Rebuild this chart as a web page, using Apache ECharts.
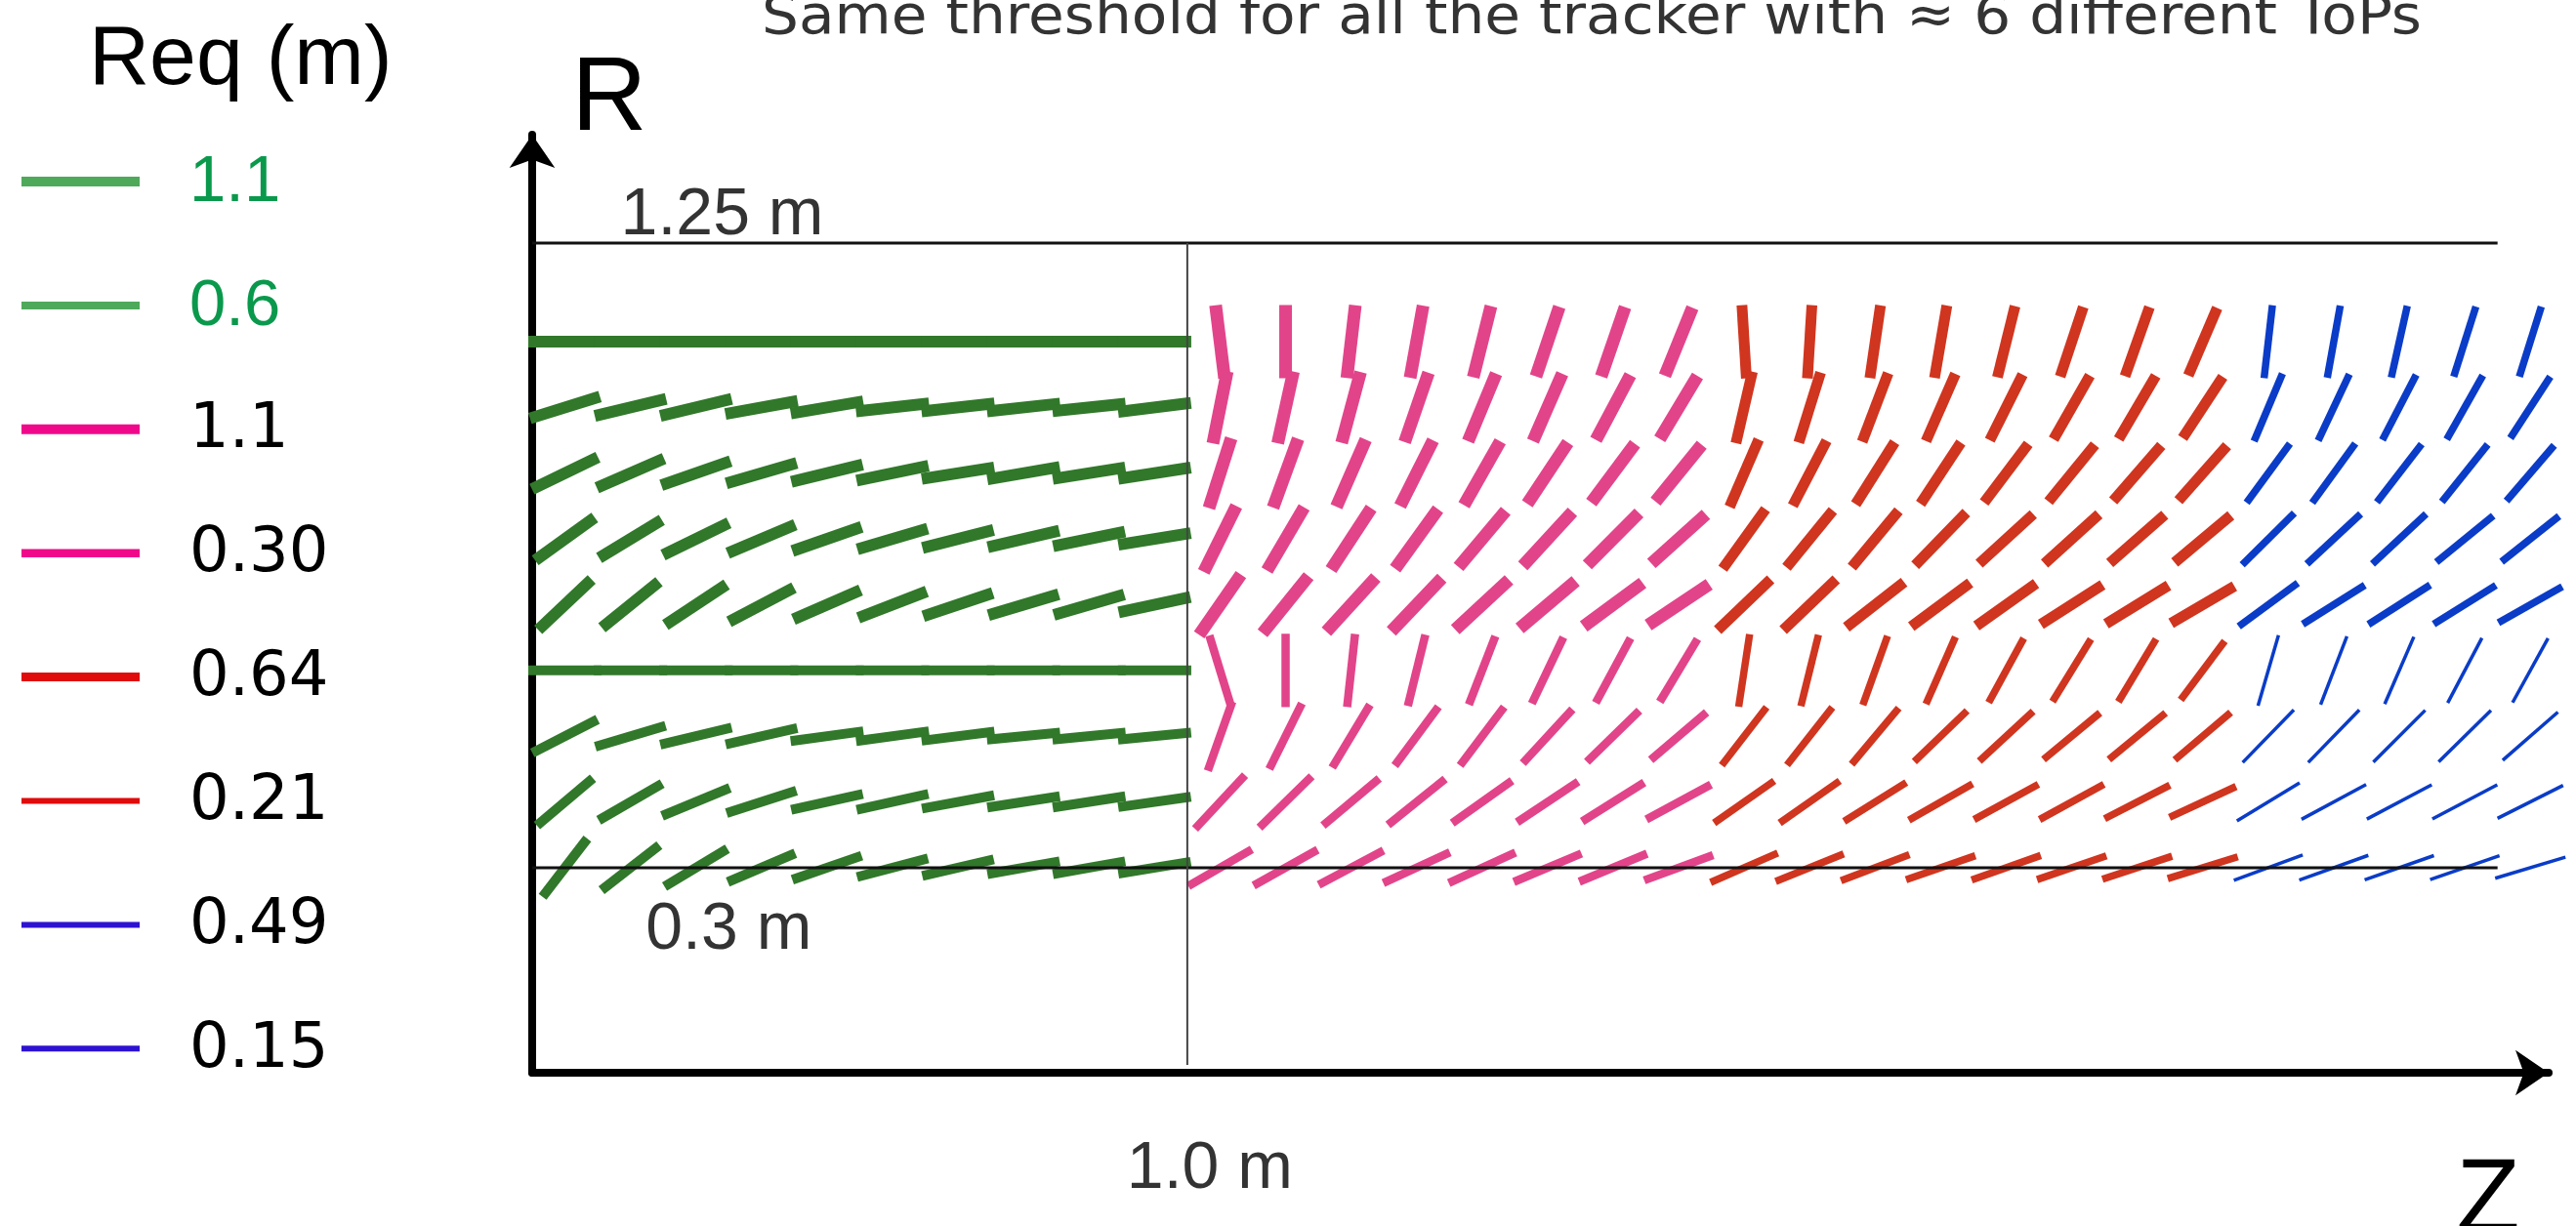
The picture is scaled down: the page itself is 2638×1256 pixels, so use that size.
<!DOCTYPE html>
<html>
<head>
<meta charset="utf-8">
<title>Tracker stub map</title>
<script src="https://cdn.jsdelivr.net/npm/echarts@6/dist/echarts.min.js"></script>
<style>
  html, body { margin: 0; padding: 0; background: #ffffff; }
  #chart { width: 2638px; height: 1256px; }
</style>
</head>
<body>
<div id="chart"></div>
<script>
// ---------------------------------------------------------------
// Data
// ---------------------------------------------------------------
// Layer radii R (m), from the outermost row down to the innermost
const layerR = [1.1, 1.0, 0.9, 0.8, 0.7, 0.6, 0.5, 0.4, 0.3];

// Module centres along Z (m)
const barrelZ = [0.05, 0.15, 0.25, 0.35, 0.45, 0.55, 0.65, 0.75, 0.85, 0.95];
const endcapZ = [1.05, 1.15, 1.25, 1.35, 1.45, 1.55, 1.65, 1.75,
                 1.85, 1.95, 2.05, 2.15, 2.25, 2.35, 2.45, 2.55,
                 2.65, 2.75, 2.85, 2.95, 3.05];

// Stub inclination in degrees from the Z axis, one row per layer (R = 1.1 ... 0.3)
const barrelAngle = [
  [0, 0, 0, 0, 0, 0, 0, 0, 0, 0],
  [17.4, 13.5, 13.5, 10.2, 9.5, 6.3, 6.3, 6.2, 6.0, 7.0],
  [26.0, 23.6, 19.2, 16.1, 13.6, 11.7, 9.0, 9.8, 9.0, 8.8],
  [35.7, 31.3, 26.0, 22.9, 19.2, 16.6, 14.3, 13.1, 11.6, 9.3],
  [43.3, 38.9, 33.4, 27.7, 23.6, 21.1, 18.5, 16.6, 16.1, 12.2],
  [0, 0, 0, 0, 0, 0, 0, 0, 0, 0],
  [27.3, 16.6, 13.4, 12.9, 7.7, 7.7, 7.2, 5.5, 5.5, 5.5],
  [40.2, 30.1, 22.4, 17.9, 12.5, 12.5, 10.4, 8.8, 8.8, 8.2],
  [52.4, 37.9, 31.1, 23.1, 19.1, 14.8, 13.0, 10.1, 10.1, 9.3]
];
const endcapAngle = [
  [97, 90, 83.4, 79.8, 76, 71.4, 71, 67.9, 93.5, 86.5, 81.7, 80.3, 76.1, 71.6, 70.5, 66.8, 83.5, 79.8, 77.4, 72.4, 72.6],
  [78.7, 77.6, 75, 71, 67.5, 66.4, 62, 59, 77, 72.7, 69.2, 66.4, 63.4, 60.3, 59.6, 56.8, 67.2, 64.8, 62.6, 60.5, 57],
  [72.3, 70, 66.4, 63.3, 60.4, 56.4, 53.4, 51, 66.6, 62.5, 57.8, 56.6, 53, 50.8, 49, 48.5, 53.8, 54, 52.4, 51.3, 49.4],
  [63.6, 59.6, 56.8, 54.2, 50, 47.4, 45.2, 42, 54.3, 50.8, 50.4, 45.8, 42.4, 42.1, 41.4, 40, 44.7, 42.8, 43, 39.2, 38.4],
  [55.3, 51.1, 47.6, 46.4, 42.9, 40.2, 36.5, 33.7, 43.7, 43.7, 38, 36.6, 35.5, 32.6, 31.6, 30.3, 36.4, 32.2, 32.6, 32, 29.4],
  [107, 90, 83.8, 76.2, 68.8, 64.5, 61.7, 59, 81.4, 76.1, 70.3, 66.3, 61.4, 58.4, 59, 53.1, 73.8, 69, 66.6, 62.2, 61.1],
  [70.5, 63.6, 59, 53.5, 53, 47.4, 44.3, 40.4, 52.3, 51.8, 50, 44, 42.8, 39.6, 39.4, 40.3, 45.8, 45.8, 45, 44.5, 41.2],
  [47, 44.5, 40, 38.8, 35.4, 33.6, 32.2, 28.4, 35, 35.1, 32, 29.7, 28.7, 28.7, 27.2, 24.9, 31.3, 28.3, 27.9, 27.8, 26.7],
  [30, 29.2, 28, 24.7, 24.6, 22.8, 22.5, 20.2, 23.6, 22, 21, 19.1, 19.5, 19, 18.3, 17.3, 20.3, 19.7, 19.3, 19, 16.7]
];

// Req values (m) listed in the key
const reqKey = ['1.1', '0.6', '1.1', '0.30', '0.64', '0.21', '0.49', '0.15'];

// Tracker outline (m)
const outerR = 1.25;
const innerR = 0.3;
const barrelEndZ = 1.0;
const trackerEndZ = 3.0;

// ---------------------------------------------------------------
// Styling
// ---------------------------------------------------------------
const STUB_LENGTH = 0.112;   // m
const GREEN = '#31782a', PINK = '#e2448a', RED = '#d0351f', BLUE = '#0a3cc8';
const KEY_COLORS = ['#4fa95b', '#4fa95b', '#f0088b', '#f0088b', '#e00b0b', '#e00b0b', '#2e12d1', '#2e12d1'];
const KEY_WIDTHS = [10, 8, 10, 8.5, 9, 6, 6, 6];

const outerRows = [0, 1, 2, 3, 4];
const innerRows = [5, 6, 7, 8];

const stubGroups = [
  { name: 'Barrel, Req 1.1 m',   z: barrelZ, a: barrelAngle, rows: outerRows, cols: [0, 10],  color: GREEN, width: 12 },
  { name: 'Barrel, Req 0.6 m',   z: barrelZ, a: barrelAngle, rows: innerRows, cols: [0, 10],  color: GREEN, width: 10 },
  { name: 'Disks 1, Req 1.1 m',  z: endcapZ, a: endcapAngle, rows: outerRows, cols: [0, 8],   color: PINK,  width: 13 },
  { name: 'Disks 1, Req 0.30 m', z: endcapZ, a: endcapAngle, rows: innerRows, cols: [0, 8],   color: PINK,  width: 8.5 },
  { name: 'Disks 2, Req 0.64 m', z: endcapZ, a: endcapAngle, rows: outerRows, cols: [8, 16],  color: RED,   width: 11 },
  { name: 'Disks 2, Req 0.21 m', z: endcapZ, a: endcapAngle, rows: innerRows, cols: [8, 16],  color: RED,   width: 7.5 },
  { name: 'Disks 3, Req 0.49 m', z: endcapZ, a: endcapAngle, rows: outerRows, cols: [16, 21], color: BLUE,  width: 7.5 },
  { name: 'Disks 3, Req 0.15 m', z: endcapZ, a: endcapAngle, rows: innerRows, cols: [16, 21], color: BLUE,  width: 3.5 }
];

function groupData(g) {
  const out = [];
  g.rows.forEach(function (r) {
    for (let c = g.cols[0]; c < g.cols[1]; c++) {
      out.push([g.z[c], layerR[r], g.a[r][c]]);
    }
  });
  return out;
}

function stubRenderer(color, width) {
  return function (params, api) {
    const centre = api.coord([api.value(0), api.value(1)]);
    const len = api.size([STUB_LENGTH, 0])[0];
    const ang = api.value(2) * Math.PI / 180;
    const dx = Math.cos(ang) * len / 2;
    const dy = Math.sin(ang) * len / 2;
    return {
      type: 'line',
      shape: { x1: centre[0] - dx, y1: centre[1] + dy, x2: centre[0] + dx, y2: centre[1] - dy },
      style: { stroke: color, lineWidth: width, lineCap: 'butt' }
    };
  };
}

const stubSeries = stubGroups.map(function (g) {
  return {
    type: 'custom',
    name: g.name,
    coordinateSystem: 'cartesian2d',
    dimensions: ['Z', 'R', 'angle'],
    encode: { x: 0, y: 1 },
    data: groupData(g),
    renderItem: stubRenderer(g.color, g.width),
    clip: false,
    silent: true,
    z: 2
  };
});

function outline(name, pts, color, width) {
  return {
    type: 'line', name: name, data: pts, symbol: 'none', silent: true, z: 5,
    lineStyle: { color: color, width: width }
  };
}

const DIM_FONT = { fontFamily: 'Liberation Sans', fontSize: 68, color: '#000000' };

// ---------------------------------------------------------------
// Key (Req thresholds) and free text
// ---------------------------------------------------------------
const keyElements = [];
reqKey.forEach(function (txt, i) {
  const y = 186 + i * 126.9;
  const green = i < 2;
  keyElements.push({
    type: 'rect', shape: { x: 22, y: y - KEY_WIDTHS[i] / 2, width: 121, height: KEY_WIDTHS[i] },
    style: { fill: KEY_COLORS[i] }, silent: true
  });
  keyElements.push({
    type: 'text', x: 194, y: y + 2,
    style: {
      text: txt,
      font: green ? '67px "Liberation Sans"' : '64px "DejaVu Sans"',
      fill: green ? '#0a994c' : '#000000',
      textAlign: 'left', align: 'left', textVerticalAlign: 'middle', verticalAlign: 'middle'
    },
    silent: true
  });
});

const TITLE = 'Same threshold for all the tracker with \u2248 6 different ToPs';
const TITLE_FONT = '56px "DejaVu Sans"';
function measure(text, font) {
  const ctx = document.createElement('canvas').getContext('2d');
  ctx.font = font;
  return ctx.measureText(text).width;
}
const titleStretch = 1700 / measure(TITLE, TITLE_FONT);

const textElements = [
  {
    type: 'text', x: 1630, y: 19, scaleX: titleStretch,
    style: { text: TITLE, font: TITLE_FONT, fill: '#333333',
             textAlign: 'center', align: 'center', textVerticalAlign: 'middle', verticalAlign: 'middle' },
    silent: true
  },
  {
    type: 'text', x: 91, y: 62,
    style: { text: 'Req (m)', font: '86px "Liberation Sans"', fill: '#000',
             textAlign: 'left', align: 'left', textVerticalAlign: 'middle', verticalAlign: 'middle' },
    silent: true
  },
  {
    type: 'text', x: 624, y: 103,
    style: { text: 'R', font: '107px "Liberation Sans"', fill: '#000',
             textAlign: 'center', align: 'center', textVerticalAlign: 'middle', verticalAlign: 'middle' },
    silent: true
  },
  {
    type: 'text', x: 2548, y: 1232,
    style: { text: 'Z', font: '107px "Liberation Sans"', fill: '#000',
             textAlign: 'center', align: 'center', textVerticalAlign: 'middle', verticalAlign: 'middle' },
    silent: true
  }
];

// ---------------------------------------------------------------
// Chart
// ---------------------------------------------------------------
const chart = echarts.init(document.getElementById('chart'), null, { renderer: 'canvas', width: 2638, height: 1256 });

chart.setOption({
  backgroundColor: '#ffffff',
  animation: false,
  grid: { left: 545, top: 138, width: 2065, height: 961, containLabel: false },
  xAxis: {
    type: 'value', min: 0, max: 3.078,
    axisLine: { show: true, onZero: false, symbol: ['none', 'arrow'], symbolSize: [35, 34],
                lineStyle: { color: '#000', width: 8 } },
    axisTick: { show: false }, axisLabel: { show: false }, splitLine: { show: false }
  },
  yAxis: {
    type: 'value', min: -0.0119, max: 1.4148,
    axisLine: { show: true, onZero: false, symbol: ['none', 'arrow'], symbolSize: [35, 34],
                lineStyle: { color: '#000', width: 8 } },
    axisTick: { show: false }, axisLabel: { show: false }, splitLine: { show: false }
  },
  series: stubSeries.concat([
    outline('Outer radius', [[0, outerR], [trackerEndZ, outerR]], '#111', 3),
    outline('Inner radius', [[0, innerR], [trackerEndZ, innerR]], '#111', 3),
    outline('Barrel end', [[barrelEndZ, 0], [barrelEndZ, outerR]], '#444', 2),
    {
      type: 'scatter', name: 'Dimensions', symbolSize: 0, silent: true, z: 6, clip: false,
      label: Object.assign({ show: true, position: 'inside', formatter: function (p) { return p.data.text; } }, DIM_FONT),
      data: [
        { value: [0.29, outerR], text: '1.25 m', label: { offset: [0, -28] } },
        { value: [innerR, innerR], text: '0.3 m', label: { offset: [0, 64] } },
        { value: [barrelEndZ, 0], text: '1.0 m', label: { offset: [23, 107] } }
      ]
    }
  ]),
  graphic: keyElements.concat(textElements)
});
</script>
</body>
</html>
